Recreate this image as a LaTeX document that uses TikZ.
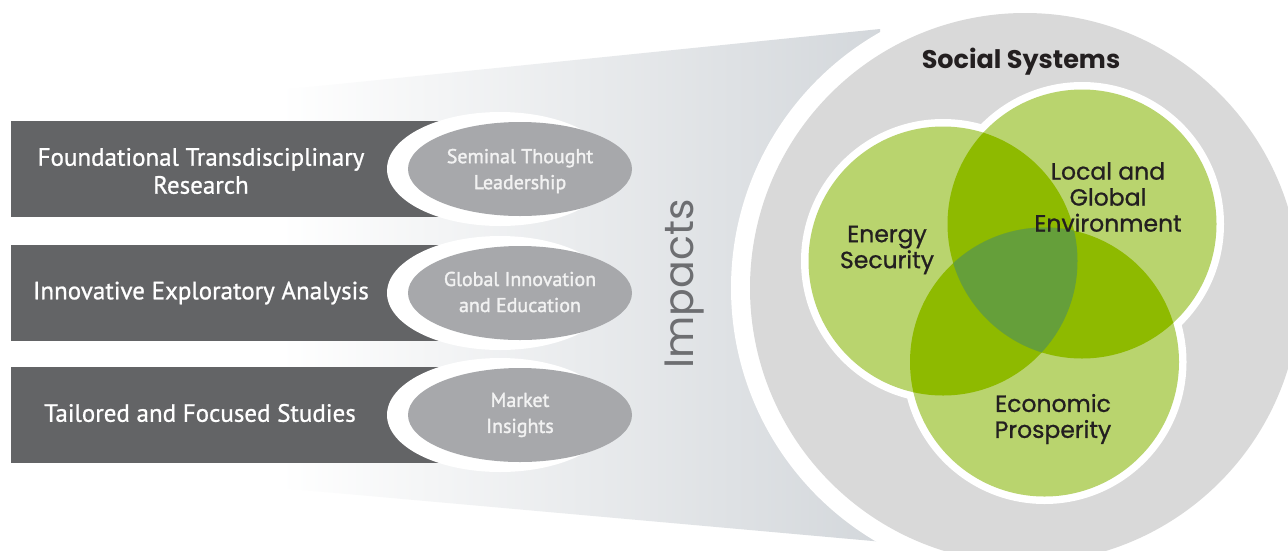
\documentclass[tikz,border=0pt]{standalone}
\usepackage{fontspec}
\setmainfont{PT Sans}
\newfontfamily\boxf{PT Sans}[FakeBold=0.9]
\newfontfamily\ellf{PT Sans}[FakeBold=1.6]
\newfontfamily\gth{Poppins}
\newfontfamily\gthm{Poppins}[FakeBold=0.9]
\definecolor{boxdark}{HTML}{636466}
\definecolor{ellgray}{HTML}{A7A8AB}
\definecolor{ringgray}{HTML}{D9D9D9}
\definecolor{funnelend}{HTML}{D3D7DB}
\definecolor{lgreen}{HTML}{B9D46E}
\definecolor{mgreen}{HTML}{8EBA00}
\definecolor{dgreen}{HTML}{659F3A}
\definecolor{impgray}{HTML}{6D6E71}
\definecolor{txtdark}{HTML}{231F20}
\begin{document}
\begin{tikzpicture}[x=1pt,y=-1pt,
  boxtxt/.style={text=white, font=\boxf\fontsize{25}{28}\selectfont, align=center, inner sep=0pt},
  elltxt/.style={text=white!95!black, font=\ellf\fontsize{20}{26}\selectfont, align=center, inner sep=0pt},
  venntxt/.style={text=txtdark, font=\gthm\fontsize{23.5}{26}\selectfont, align=center, inner sep=0pt},
  ]
\useasboundingbox (0,0) rectangle (1288,550);
\fill[white] (0,0) rectangle (1288,550);
% funnel
\shade[left color=white, middle color=funnelend!35!white, right color=funnelend] (280,90) -- (880,29) -- (884,542) -- (280,488) -- cycle;
% social systems circle
\coordinate (S) at (1025,288);
\fill[white] (S) circle[radius=294pt];
\fill[ringgray] (S) circle[radius=275pt];
% venn
\coordinate (E) at (943,261);
\coordinate (L) at (1082,224);
\coordinate (P) at (1044.5,362);
\foreach \c in {E,L,P} \fill[white] (\c) circle[radius=142pt];
\foreach \c in {E,L,P} \fill[lgreen] (\c) circle[radius=134.5pt];
\begin{scope}
  \clip (E) circle[radius=134.5pt];
  \fill[mgreen] (L) circle[radius=134.5pt];
  \fill[mgreen] (P) circle[radius=134.5pt];
  \clip (L) circle[radius=134.5pt];
  \fill[dgreen] (P) circle[radius=134.5pt];
\end{scope}
\begin{scope}
  \clip (L) circle[radius=134.5pt];
  \fill[mgreen] (P) circle[radius=134.5pt];
  \clip (E) circle[radius=134.5pt];
  \fill[dgreen] (P) circle[radius=134.5pt];
\end{scope}
\node[text=txtdark, font=\gth\bfseries\fontsize{25.5}{28}\selectfont, inner sep=0pt] (soc) at (1021,62) {Social Systems};
\node[venntxt] (en) at (887,250) {Energy\\Security};
\node[venntxt] (lo) at (1108,197) {Local and\\Global\\Environment};
\node[venntxt] (ec) at (1053,419) {Economic\\Prosperity};
\node[rotate=90, text=impgray, font=\gth\fontsize{41}{46}\selectfont, inner sep=0pt] (imp) at (685,284) {Impacts};
% left boxes
\foreach \cy/\nm in {169/a,293/b,415/c}{
  \fill[boxdark] (11,\cy-48) rectangle (445,\cy+48);
  \fill[white] (500,\cy) ellipse[x radius=113pt, y radius=57pt];
  \fill[ellgray] (520,\cy) ellipse[x radius=112pt, y radius=47pt];
}
\node[boxtxt] (b1) at (201,171) {Foundational Transdisciplinary\\Research};
\node[boxtxt] (b2) at (201,293) {Innovative Exploratory Analysis};
\node[boxtxt] (b3) at (200,413) {Tailored and Focused Studies};
\node[elltxt] (e1) at (520,171) {Seminal Thought\\Leadership};
\node[elltxt] (e2) at (520,292) {Global Innovation\\and Education};
\node[elltxt] (e3) at (520,415) {Market\\Insights};
\end{tikzpicture}
\end{document}
